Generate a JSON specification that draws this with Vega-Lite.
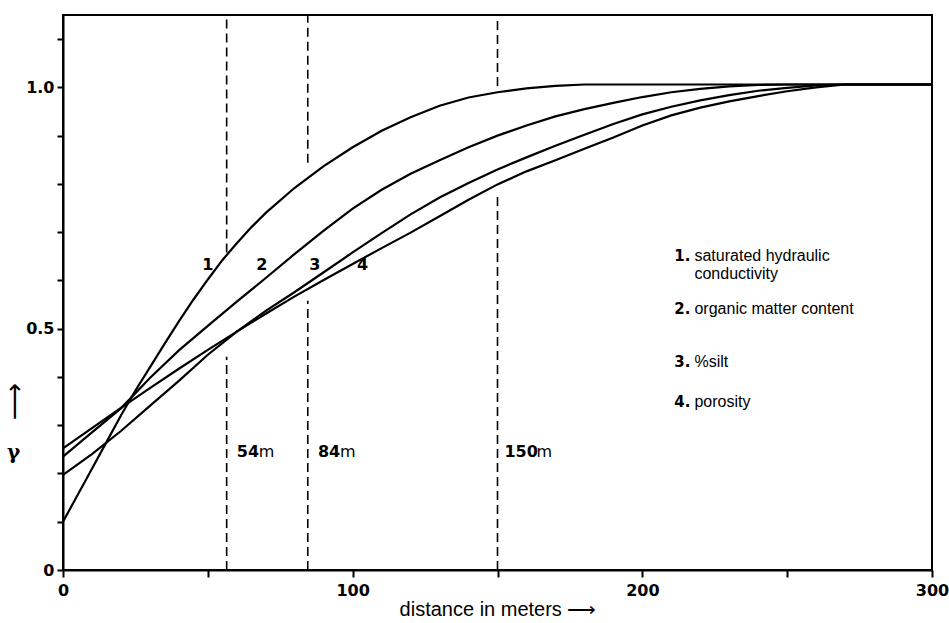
{
  "$schema": "https://vega.github.io/schema/vega-lite/v6.json",
  "width": 869,
  "height": 555,
  "autosize": {"type": "none"},
  "padding": {"left": 63, "top": 15, "right": 17, "bottom": 53},
  "background": "white",
  "config": {
    "view": {"stroke": "black", "strokeWidth": 2},
    "axis": {"grid": false, "domainColor": "black", "domainWidth": 2, "tickColor": "black", "tickWidth": 2, "labelColor": "black", "titleColor": "black", "labelFlush": false}
  },
  "datasets": {
    "curves": [
      {"curve": "1", "d": 0, "g": 0.1}, {"curve": "1", "d": 5, "g": 0.155}, {"curve": "1", "d": 10, "g": 0.21}, {"curve": "1", "d": 15, "g": 0.265}, {"curve": "1", "d": 20, "g": 0.32}, {"curve": "1", "d": 25, "g": 0.372}, {"curve": "1", "d": 30, "g": 0.42}, {"curve": "1", "d": 35, "g": 0.468}, {"curve": "1", "d": 40, "g": 0.515}, {"curve": "1", "d": 45, "g": 0.56}, {"curve": "1", "d": 50, "g": 0.602}, {"curve": "1", "d": 55, "g": 0.642}, {"curve": "1", "d": 60, "g": 0.677}, {"curve": "1", "d": 65, "g": 0.71}, {"curve": "1", "d": 70, "g": 0.74}, {"curve": "1", "d": 80, "g": 0.792}, {"curve": "1", "d": 90, "g": 0.837}, {"curve": "1", "d": 100, "g": 0.876}, {"curve": "1", "d": 110, "g": 0.91}, {"curve": "1", "d": 120, "g": 0.938}, {"curve": "1", "d": 130, "g": 0.962}, {"curve": "1", "d": 140, "g": 0.979}, {"curve": "1", "d": 150, "g": 0.99}, {"curve": "1", "d": 160, "g": 0.998}, {"curve": "1", "d": 170, "g": 1.003}, {"curve": "1", "d": 180, "g": 1.006}, {"curve": "1", "d": 300, "g": 1.006},
      {"curve": "2", "d": 0, "g": 0.235}, {"curve": "2", "d": 10, "g": 0.285}, {"curve": "2", "d": 20, "g": 0.335}, {"curve": "2", "d": 30, "g": 0.398}, {"curve": "2", "d": 40, "g": 0.455}, {"curve": "2", "d": 50, "g": 0.506}, {"curve": "2", "d": 60, "g": 0.556}, {"curve": "2", "d": 70, "g": 0.605}, {"curve": "2", "d": 80, "g": 0.655}, {"curve": "2", "d": 90, "g": 0.703}, {"curve": "2", "d": 100, "g": 0.749}, {"curve": "2", "d": 110, "g": 0.788}, {"curve": "2", "d": 120, "g": 0.821}, {"curve": "2", "d": 130, "g": 0.849}, {"curve": "2", "d": 140, "g": 0.876}, {"curve": "2", "d": 150, "g": 0.9}, {"curve": "2", "d": 160, "g": 0.921}, {"curve": "2", "d": 170, "g": 0.94}, {"curve": "2", "d": 180, "g": 0.955}, {"curve": "2", "d": 190, "g": 0.968}, {"curve": "2", "d": 200, "g": 0.98}, {"curve": "2", "d": 210, "g": 0.99}, {"curve": "2", "d": 220, "g": 0.997}, {"curve": "2", "d": 230, "g": 1.002}, {"curve": "2", "d": 240, "g": 1.005}, {"curve": "2", "d": 250, "g": 1.006}, {"curve": "2", "d": 300, "g": 1.006},
      {"curve": "3", "d": 0, "g": 0.197}, {"curve": "3", "d": 10, "g": 0.24}, {"curve": "3", "d": 20, "g": 0.288}, {"curve": "3", "d": 30, "g": 0.34}, {"curve": "3", "d": 40, "g": 0.392}, {"curve": "3", "d": 50, "g": 0.446}, {"curve": "3", "d": 60, "g": 0.494}, {"curve": "3", "d": 70, "g": 0.537}, {"curve": "3", "d": 80, "g": 0.576}, {"curve": "3", "d": 90, "g": 0.617}, {"curve": "3", "d": 100, "g": 0.658}, {"curve": "3", "d": 110, "g": 0.698}, {"curve": "3", "d": 120, "g": 0.737}, {"curve": "3", "d": 130, "g": 0.772}, {"curve": "3", "d": 140, "g": 0.802}, {"curve": "3", "d": 150, "g": 0.83}, {"curve": "3", "d": 160, "g": 0.855}, {"curve": "3", "d": 170, "g": 0.879}, {"curve": "3", "d": 180, "g": 0.902}, {"curve": "3", "d": 190, "g": 0.924}, {"curve": "3", "d": 200, "g": 0.944}, {"curve": "3", "d": 210, "g": 0.96}, {"curve": "3", "d": 220, "g": 0.973}, {"curve": "3", "d": 230, "g": 0.984}, {"curve": "3", "d": 240, "g": 0.993}, {"curve": "3", "d": 250, "g": 0.999}, {"curve": "3", "d": 260, "g": 1.004}, {"curve": "3", "d": 270, "g": 1.006}, {"curve": "3", "d": 300, "g": 1.006},
      {"curve": "4", "d": 0, "g": 0.252}, {"curve": "4", "d": 10, "g": 0.294}, {"curve": "4", "d": 20, "g": 0.336}, {"curve": "4", "d": 30, "g": 0.377}, {"curve": "4", "d": 40, "g": 0.417}, {"curve": "4", "d": 50, "g": 0.456}, {"curve": "4", "d": 60, "g": 0.494}, {"curve": "4", "d": 70, "g": 0.531}, {"curve": "4", "d": 80, "g": 0.567}, {"curve": "4", "d": 90, "g": 0.601}, {"curve": "4", "d": 100, "g": 0.634}, {"curve": "4", "d": 110, "g": 0.667}, {"curve": "4", "d": 120, "g": 0.699}, {"curve": "4", "d": 130, "g": 0.733}, {"curve": "4", "d": 140, "g": 0.767}, {"curve": "4", "d": 150, "g": 0.799}, {"curve": "4", "d": 160, "g": 0.826}, {"curve": "4", "d": 170, "g": 0.849}, {"curve": "4", "d": 180, "g": 0.873}, {"curve": "4", "d": 190, "g": 0.896}, {"curve": "4", "d": 200, "g": 0.921}, {"curve": "4", "d": 210, "g": 0.942}, {"curve": "4", "d": 220, "g": 0.958}, {"curve": "4", "d": 230, "g": 0.971}, {"curve": "4", "d": 240, "g": 0.982}, {"curve": "4", "d": 250, "g": 0.992}, {"curve": "4", "d": 260, "g": 1.0}, {"curve": "4", "d": 270, "g": 1.006}, {"curve": "4", "d": 300, "g": 1.006}
    ],
    "ranges": [
      {"d": 56.5, "g0": 0, "g1": 0.442}, {"d": 56.5, "g0": 0.658, "g1": 1.15},
      {"d": 84.5, "g0": 0, "g1": 0.558}, {"d": 84.5, "g0": 0.844, "g1": 1.15},
      {"d": 150, "g0": 0, "g1": 0.775}, {"d": 150, "g0": 1.003, "g1": 1.15}
    ],
    "rangeNums": [
      {"d": 60, "g": 0.245, "t": "54"}, {"d": 88, "g": 0.245, "t": "84"}, {"d": 152.4, "g": 0.245, "t": "150"}
    ],
    "rangeUnits": [
      {"d": 67.6, "g": 0.245, "t": "m"}, {"d": 95.6, "g": 0.245, "t": "m"}, {"d": 163.5, "g": 0.245, "t": "m"}
    ],
    "curveLabels": [
      {"d": 50, "g": 0.633, "t": "1"}, {"d": 68.6, "g": 0.633, "t": "2"}, {"d": 86.9, "g": 0.633, "t": "3"}, {"d": 103.4, "g": 0.633, "t": "4"}
    ],
    "legendNums": [
      {"d": 211, "g": 0.651, "t": "1."}, {"d": 211, "g": 0.541, "t": "2."}, {"d": 211, "g": 0.432, "t": "3."}, {"d": 211, "g": 0.349, "t": "4."}
    ],
    "legendText": [
      {"d": 218, "g": 0.651, "t": "saturated hydraulic"}, {"d": 218, "g": 0.614, "t": "conductivity"}, {"d": 218, "g": 0.541, "t": "organic matter content"}, {"d": 218, "g": 0.432, "t": "%silt"}, {"d": 218, "g": 0.349, "t": "porosity"}
    ],
    "arrow": [
      {"d": -16.5, "g": 0.349, "t": "⟶"}
    ]
  },
  "layer": [
    {
      "data": {"name": "curves"},
      "mark": {"type": "line", "color": "black", "strokeWidth": 2.2},
      "encoding": {
        "x": {"field": "d", "type": "quantitative", "scale": {"domain": [0, 300], "nice": false},
          "axis": {"values": [0, 50, 100, 150, 200, 250, 300], "labelExpr": "datum.value % 100 == 0 ? datum.label : ''", "labelFont": "DejaVu Sans", "labelFontWeight": "bold", "labelFontSize": 16, "tickSize": 7, "labelPadding": 5,
            "title": "distance in meters  ⟶", "titleFont": "Liberation Sans", "titleFontWeight": "normal", "titleFontSize": 20, "titlePadding": 1}},
        "y": {"field": "g", "type": "quantitative", "scale": {"domain": [0, 1.15], "nice": false},
          "axis": {"values": [0, 0.1, 0.2, 0.3, 0.4, 0.5, 0.6, 0.7, 0.8, 0.9, 1.0, 1.1], "labelExpr": "abs(datum.value) < 0.001 ? '0' : abs(datum.value - 0.5) < 0.001 ? '0.5' : abs(datum.value - 1) < 0.001 ? '1.0' : ''", "labelFont": "DejaVu Sans", "labelFontWeight": "bold", "labelFontSize": 16, "tickSize": 6, "labelPadding": 3,
            "title": "γ", "titleAngle": 0, "titleX": -50, "titleY": 437, "titleAlign": "center", "titleBaseline": "middle", "titleFont": "DejaVu Serif", "titleFontWeight": "bold", "titleFontSize": 20}},
        "detail": {"field": "curve"}
      }
    },
    {
      "data": {"name": "ranges"},
      "mark": {"type": "rule", "color": "black", "strokeWidth": 1.6, "strokeDash": [9, 5]},
      "encoding": {
        "x": {"field": "d", "type": "quantitative"},
        "y": {"field": "g0", "type": "quantitative"},
        "y2": {"field": "g1"}
      }
    },
    {
      "data": {"name": "rangeNums"},
      "mark": {"type": "text", "align": "left", "baseline": "middle", "font": "DejaVu Sans", "fontWeight": "bold", "fontSize": 16, "color": "black"},
      "encoding": {"x": {"field": "d", "type": "quantitative"}, "y": {"field": "g", "type": "quantitative"}, "text": {"field": "t"}}
    },
    {
      "data": {"name": "rangeUnits"},
      "mark": {"type": "text", "align": "left", "baseline": "middle", "font": "DejaVu Sans", "fontSize": 16, "color": "black"},
      "encoding": {"x": {"field": "d", "type": "quantitative"}, "y": {"field": "g", "type": "quantitative"}, "text": {"field": "t"}}
    },
    {
      "data": {"name": "curveLabels"},
      "mark": {"type": "text", "align": "center", "baseline": "middle", "font": "DejaVu Sans", "fontWeight": "bold", "fontSize": 16, "color": "black"},
      "encoding": {"x": {"field": "d", "type": "quantitative"}, "y": {"field": "g", "type": "quantitative"}, "text": {"field": "t"}}
    },
    {
      "data": {"name": "legendNums"},
      "mark": {"type": "text", "align": "left", "baseline": "middle", "font": "DejaVu Sans", "fontWeight": "bold", "fontSize": 15, "color": "black"},
      "encoding": {"x": {"field": "d", "type": "quantitative"}, "y": {"field": "g", "type": "quantitative"}, "text": {"field": "t"}}
    },
    {
      "data": {"name": "legendText"},
      "mark": {"type": "text", "align": "left", "baseline": "middle", "font": "Liberation Sans", "fontSize": 16, "color": "black"},
      "encoding": {"x": {"field": "d", "type": "quantitative"}, "y": {"field": "g", "type": "quantitative"}, "text": {"field": "t"}}
    },
    {
      "data": {"name": "arrow"},
      "mark": {"type": "text", "align": "center", "baseline": "middle", "font": "DejaVu Sans", "fontSize": 26, "angle": 270, "color": "black"},
      "encoding": {"x": {"field": "d", "type": "quantitative"}, "y": {"field": "g", "type": "quantitative"}, "text": {"field": "t"}}
    }
  ]
}
